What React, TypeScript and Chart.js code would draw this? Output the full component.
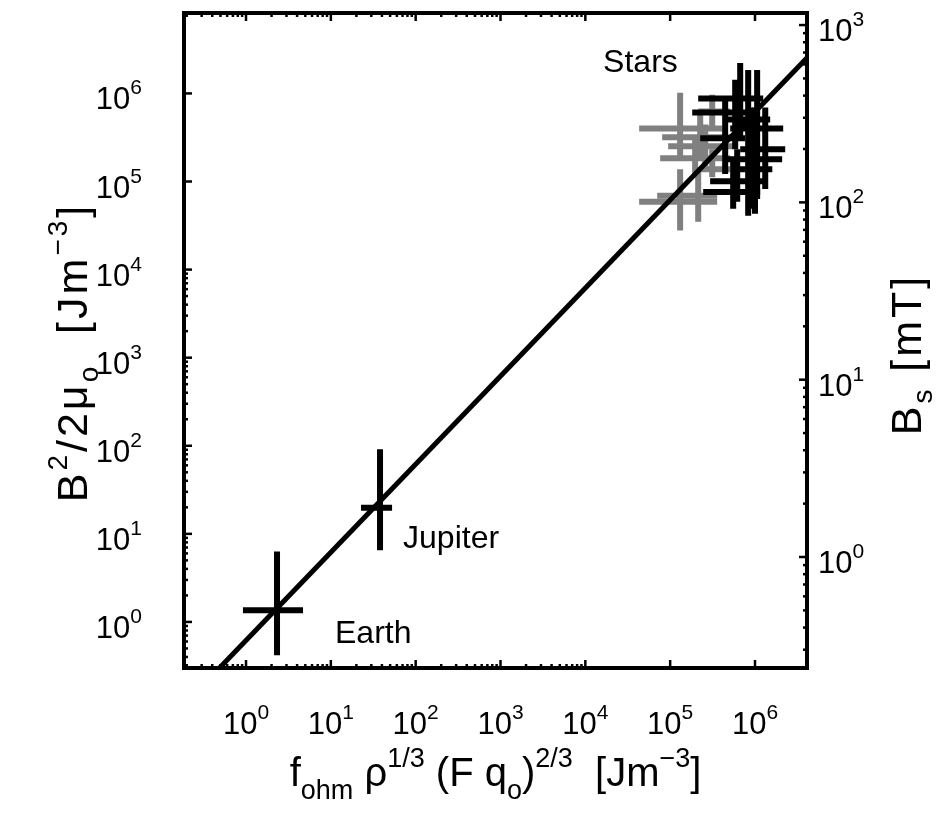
import React, { useEffect, useRef } from "react";
import { Chart, registerables } from "chart.js";

Chart.register(...registerables);

const FONT = '"Liberation Sans", Arial, Helvetica, sans-serif';

// Axis ranges (log scales)
const X_MIN = Math.pow(10, -0.731);
const X_MAX = Math.pow(10, 6.613);
const Y_MIN = Math.pow(10, -0.473);
const Y_MAX = Math.pow(10, 6.913);
const B_MIN = Math.pow(10, -0.626);
const B_MAX = Math.pow(10, 3.068);

// Tick exponents
const xTickExponents = [0, 1, 2, 3, 4, 5, 6];
const yTickExponents = [0, 1, 2, 3, 4, 5, 6];
const bTickExponents = [0, 1, 2, 3];
// minor ticks are drawn only below these decades (as in the reference)
const xMinorLimit = 1e4;
const yMinorLimit = 1e4;

// Fit line
const fitX = [0.1, 1e7];
const fitY = [0.0617, 6.17e6];

// Planets
const planetNames = ["Earth", "Jupiter"];
const planetX = [2.32, 38];
const planetXLo = [0.92, 22.7];
const planetXHi = [4.7, 52.7];
const planetY = [1.36, 19.8];
const planetYLo = [0.42, 6.5];
const planetYHi = [6.3, 91.6];

// Stars (gray)
const grayX = [1.31e5, 2.26e5, 2.59e5, 1.97e5, 3.13e5, 1.31e5, 2.14e5, 3.13e5];
const grayXLo = [4.31e4, 8.05e4, 9.47e4, 7.62e4, 2.14e5, 4.31e4, 7.03e4, 2.26e5];
const grayXHi = [4.1e5, 5.1e5, 5.53e5, 5.1e5, 5.1e5, 3.58e5, 3.58e5, 5.1e5];
const grayY = [4.01e5, 3.18e5, 2.51e5, 1.84e5, 6.23e5, 5.88e4, 6.87e4, 1.38e5];
const grayYLo = [1.79e5, 1.79e5, 1.38e5, 1.12e5, 4.01e5, 2.77e4, 3.49e4, 1.12e5];
const grayYHi = [1.02e6, 5.77e5, 4.45e5, 3.01e5, 9.69e5, 1.38e5, 1.38e5, 2.32e5];

// Stars (black)
const blackX = [6.69e5, 5.84e5, 1.06e6, 4.45e5, 8.77e5, 1.0e6, 6.17e5, 5.53e5, 1.32e6, 8.31e5];
const blackXLo = [2.14e5, 1.82e5, 5.1e5, 2.26e5, 4.22e5, 5.53e5, 2.96e5, 2.45e5, 6.69e5, 4.45e5];
const blackXHi = [1.25e6, 1.06e6, 2.15e6, 7.66e5, 2.09e6, 1.6e6, 1.25e6, 1.15e6, 2.27e6, 1.51e6];
const blackY = [8.74e5, 6.08e5, 4.01e5, 3.09e5, 1.79e5, 1.38e5, 1.01e5, 7.62e4, 2.32e5, 5.07e5];
const blackYLo = [3.01e5, 2.32e5, 6.35e4, 1.22e5, 4.9e4, 4.3e4, 5.88e4, 4.9e4, 8.23e4, 4.09e4];
const blackYHi = [2.22e6, 1.43e6, 1.85e6, 8.51e5, 6.92e5, 6.92e5, 2.32e5, 1.79e5, 6.92e5, 1.85e6];

// Text annotations (left-middle anchor in data coordinates)
const noteText = ["Earth", "Jupiter", "Stars"];
const noteX = [11.2, 71, 1.62e4];
const noteY = [0.73, 8.6, 2.22e6];

type Seg = { t: string; k: number };

function drawRich(
  ctx: CanvasRenderingContext2D,
  segs: Seg[],
  x: number,
  y: number,
  align: "left" | "center" | "right",
  main: number,
  script: number,
  supShift: number,
  subShift: number,
  spacing = 0
) {
  const c: any = ctx;
  c.letterSpacing = `${spacing}px`;
  let w = 0;
  const widths: number[] = [];
  segs.forEach((s) => {
    ctx.font = `${s.k === 0 ? main : script}px ${FONT}`;
    const m = ctx.measureText(s.t).width;
    widths.push(m);
    w += m;
  });
  let cx = align === "center" ? x - w / 2 : align === "right" ? x - w : x;
  ctx.textAlign = "left";
  ctx.textBaseline = "alphabetic";
  segs.forEach((s, i) => {
    ctx.font = `${s.k === 0 ? main : script}px ${FONT}`;
    const dy = s.k === 1 ? -supShift : s.k === -1 ? subShift : 0;
    ctx.fillText(s.t, cx, y + dy);
    cx += widths[i];
  });
  c.letterSpacing = "0px";
  return w;
}

const errorBarPlugin = {
  id: "errorBars",
  beforeDatasetsDraw(chart: any) {
    const ctx: CanvasRenderingContext2D = chart.ctx;
    const xs = chart.scales.x;
    const ys = chart.scales.y;
    const a = chart.chartArea;
    ctx.save();
    ctx.beginPath();
    ctx.rect(a.left, a.top, a.right - a.left, a.bottom - a.top);
    ctx.clip();
    ctx.lineCap = "butt";
    chart.data.datasets.forEach((ds: any) => {
      if (!ds.errorBars) return;
      const e = ds.errorBars;
      ctx.strokeStyle = ds.borderColor;
      ctx.lineWidth = 6;
      ds.data.forEach((p: any, i: number) => {
        const px = xs.getPixelForValue(p.x);
        const py = ys.getPixelForValue(p.y);
        ctx.beginPath();
        ctx.moveTo(xs.getPixelForValue(e.xLo[i]), py);
        ctx.lineTo(xs.getPixelForValue(e.xHi[i]), py);
        ctx.moveTo(px, ys.getPixelForValue(e.yLo[i]));
        ctx.lineTo(px, ys.getPixelForValue(e.yHi[i]));
        ctx.stroke();
      });
    });
    ctx.restore();
  },
};

const framePlugin = {
  id: "frame",
  afterDraw(chart: any) {
    const ctx: CanvasRenderingContext2D = chart.ctx;
    const xs = chart.scales.x;
    const ys = chart.scales.y;
    const bs = chart.scales.b;
    const a = chart.chartArea;
    ctx.save();
    ctx.fillStyle = "#000";
    ctx.strokeStyle = "#000";

    // annotations
    ctx.font = `32px ${FONT}`;
    ctx.textAlign = "left";
    ctx.textBaseline = "middle";
    noteText.forEach((t, i) => {
      ctx.fillText(t, xs.getPixelForValue(noteX[i]), ys.getPixelForValue(noteY[i]));
    });

    // ticks
    ctx.lineCap = "butt";
    const major = 8;
    const minor = 4;
    ctx.lineWidth = 2.5;
    const tick = (x1: number, y1: number, x2: number, y2: number) => {
      ctx.beginPath();
      ctx.moveTo(x1, y1);
      ctx.lineTo(x2, y2);
      ctx.stroke();
    };
    // x ticks (bottom and top)
    for (let d = -1; d <= 7; d++) {
      for (let m = 1; m <= 9; m++) {
        const v = m * Math.pow(10, d);
        if (v < X_MIN || v > X_MAX) continue;
        const isMajor = m === 1;
        if (!isMajor && v > xMinorLimit) continue;
        const px = xs.getPixelForValue(v);
        const len = isMajor ? major : minor;
        tick(px, a.bottom, px, a.bottom - len);
        tick(px, a.top, px, a.top + len);
      }
    }
    // left y ticks
    for (let d = -1; d <= 7; d++) {
      for (let m = 1; m <= 9; m++) {
        const v = m * Math.pow(10, d);
        if (v < Y_MIN || v > Y_MAX) continue;
        const isMajor = m === 1;
        if (!isMajor && v > yMinorLimit) continue;
        const py = ys.getPixelForValue(v);
        tick(a.left, py, a.left + (isMajor ? major : minor), py);
      }
    }
    // right B ticks
    for (let d = -1; d <= 3; d++) {
      for (let m = 1; m <= 9; m++) {
        const v = m * Math.pow(10, d);
        if (v < B_MIN || v > B_MAX) continue;
        const isMajor = m === 1;
        const py = bs.getPixelForValue(v);
        tick(a.right, py, a.right - (isMajor ? major : minor), py);
      }
    }

    // box
    ctx.lineWidth = 4;
    ctx.strokeRect(a.left, a.top, a.right - a.left, a.bottom - a.top);

    // tick labels
    const MS = 31;
    const SS = 21;
    const SUP = 15;
    xTickExponents.forEach((e) => {
      const px = xs.getPixelForValue(Math.pow(10, e));
      drawRich(ctx, [{ t: "10", k: 0 }, { t: String(e), k: 1 }], px, a.bottom + 66, "center", MS, SS, SUP, 0);
    });
    yTickExponents.forEach((e) => {
      const py = ys.getPixelForValue(Math.pow(10, e));
      drawRich(ctx, [{ t: "10", k: 0 }, { t: String(e), k: 1 }], a.left - 42, py + 16, "right", MS, SS, SUP, 0);
    });
    bTickExponents.forEach((e) => {
      const py = bs.getPixelForValue(Math.pow(10, e));
      drawRich(ctx, [{ t: "10", k: 0 }, { t: String(e), k: 1 }], a.right + 11, py + 16, "left", MS, SS, SUP, 0);
    });

    // axis titles
    const TM = 40;
    const TS = 27;
    // bottom
    drawRich(
      ctx,
      [
        { t: "f", k: 0 },
        { t: "ohm", k: -1 },
        { t: " ρ", k: 0 },
        { t: "1/3", k: 1 },
        { t: " (F q", k: 0 },
        { t: "o", k: -1 },
        { t: ")", k: 0 },
        { t: "2/3", k: 1 },
        { t: "  [Jm", k: 0 },
        { t: "−3", k: 1 },
        { t: "]", k: 0 },
      ],
      (a.left + a.right) / 2,
      786,
      "center",
      TM,
      TS,
      19,
      13
    );
    const VM = 43;
    const VS = 28;
    // left
    ctx.save();
    ctx.translate(87, (a.top + a.bottom) / 2 + 12);
    ctx.rotate(-Math.PI / 2);
    drawRich(
      ctx,
      [
        { t: "B", k: 0 },
        { t: "2", k: 1 },
        { t: "/2μ", k: 0 },
        { t: "o", k: -1 },
        { t: "  [Jm", k: 0 },
        { t: "−3", k: 1 },
        { t: "]", k: 0 },
      ],
      0,
      0,
      "center",
      VM,
      VS,
      20,
      11,
      3
    );
    ctx.restore();
    // right
    ctx.save();
    ctx.translate(921, (a.top + a.bottom) / 2 + 14);
    ctx.rotate(-Math.PI / 2);
    drawRich(
      ctx,
      [
        { t: "B", k: 0 },
        { t: "s", k: -1 },
        { t: " [mT]", k: 0 },
      ],
      0,
      0,
      "center",
      VM,
      VS,
      20,
      11,
      3
    );
    ctx.restore();

    ctx.restore();
  },
};

export default function App() {
  const ref = useRef<HTMLCanvasElement>(null);
  useEffect(() => {
    const canvas = ref.current;
    if (!canvas) return;
    const toPts = (xs: number[], ys: number[]) => xs.map((x, i) => ({ x, y: ys[i] }));
    const chart = new Chart(canvas, {
      type: "scatter",
      data: {
        datasets: [
          {
            label: "fit",
            data: toPts(fitX, fitY),
            showLine: true,
            borderColor: "#000",
            borderWidth: 5,
            pointRadius: 0,
            pointHoverRadius: 0,
          },
          {
            label: "Stars (gray)",
            data: toPts(grayX, grayY),
            borderColor: "#808080",
            backgroundColor: "#808080",
            pointRadius: 0,
            errorBars: { xLo: grayXLo, xHi: grayXHi, yLo: grayYLo, yHi: grayYHi },
          } as any,
          {
            label: "Stars (black)",
            data: toPts(blackX, blackY),
            borderColor: "#000",
            backgroundColor: "#000",
            pointRadius: 0,
            errorBars: { xLo: blackXLo, xHi: blackXHi, yLo: blackYLo, yHi: blackYHi },
          } as any,
          {
            label: planetNames.join(", "),
            data: toPts(planetX, planetY),
            borderColor: "#000",
            backgroundColor: "#000",
            pointRadius: 0,
            errorBars: { xLo: planetXLo, xHi: planetXHi, yLo: planetYLo, yHi: planetYHi },
          } as any,
        ],
      },
      options: {
        animation: false,
        responsive: false,
        maintainAspectRatio: false,
        layout: { padding: { left: 184, top: 13, right: 952 - 807, bottom: 814 - 668 } },
        plugins: { legend: { display: false }, tooltip: { enabled: false } },
        scales: {
          x: { type: "logarithmic", min: X_MIN, max: X_MAX, display: false },
          y: { type: "logarithmic", min: Y_MIN, max: Y_MAX, display: false },
          b: { type: "logarithmic", position: "right", axis: "y", min: B_MIN, max: B_MAX, display: false },
        },
      },
      plugins: [errorBarPlugin, framePlugin],
    } as any);
    return () => chart.destroy();
  }, []);
  return (
    <div style={{ position: "fixed", left: 0, top: 0, width: 952, height: 814, background: "#fff" }}>
      <canvas ref={ref} width={952} height={814} style={{ display: "block", width: 952, height: 814 }} />
    </div>
  );
}
